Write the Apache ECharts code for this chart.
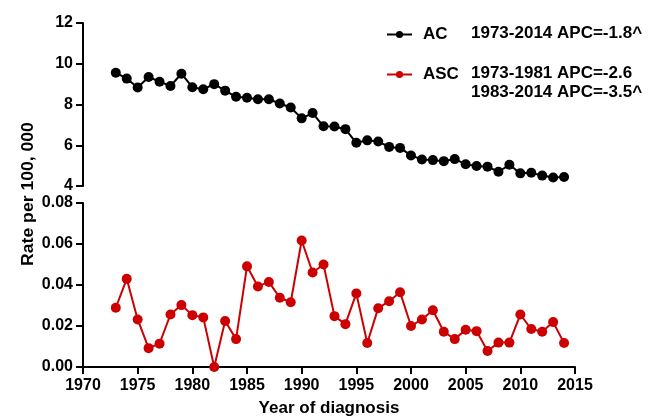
<!DOCTYPE html>
<html lang="en">
<head>
    <meta charset="UTF-8">
    <title>AC / ASC rates</title>
    <script src="https://cdn.jsdelivr.net/npm/echarts@6/dist/echarts.min.js"></script>
    <style>
        html, body { margin: 0; padding: 0; background: #fff; }
    </style>
</head>
<body>
    <div id="ec" style="width:661px;height:418px"></div>
</body>
<script>
    var years = []
    for (var y = 1973; y <= 2014; y++) years.push(y)

    var acRates = [9.56, 9.27, 8.83, 9.35, 9.12, 8.91, 9.51, 8.85, 8.75, 9.0,
        8.68, 8.38, 8.33, 8.26, 8.26, 8.05, 7.85, 7.32, 7.58, 6.93,
        6.92, 6.79, 6.12, 6.24, 6.18, 5.92, 5.87, 5.5, 5.3, 5.27,
        5.22, 5.32, 5.07, 4.98, 4.95, 4.7, 5.04, 4.62, 4.65, 4.51,
        4.42, 4.44]

    var ascRates = [0.0289, 0.043, 0.0232, 0.0092, 0.0114, 0.0256, 0.0302, 0.0253, 0.0242, 0.0,
        0.0224, 0.0136, 0.0491, 0.0393, 0.0415, 0.0338, 0.0316, 0.0617, 0.0461, 0.05,
        0.0248, 0.0209, 0.0359, 0.0117, 0.0287, 0.0321, 0.0365, 0.02, 0.0232, 0.0277,
        0.0172, 0.0136, 0.0182, 0.0175, 0.0078, 0.0119, 0.0119, 0.0256, 0.0185, 0.0172,
        0.0219, 0.0117]

    var seriesNames = ['AC', 'ASC']
    var apcLines = ['1973-2014 APC=-1.8^', '1973-1981 APC=-2.6', '1983-2014 APC=-3.5^']

    var font = 'Liberation Sans, Arial, sans-serif'

    // fresh style objects per axis
    function axisLine() { return { show: true, onZero: false, lineStyle: { color: '#000', width: 2 } } }
    function axisTick() { return { show: true, length: 7, lineStyle: { color: '#000', width: 2, opacity: 1 } } }
    function axisLabel(extra) {
        var o = { show: true, color: '#000', fontWeight: 'bold', fontSize: 16, fontFamily: font }
        return Object.assign(o, extra)
    }

    function pairs(vals) {
        return years.map(function (yr, i) { return [yr, vals[i]] })
    }

    var mychart = echarts.init(document.getElementById('ec'))

    var options = {
        backgroundColor: '#fff',
        animation: false,
        grid: [
            { left: 83, right: 86, top: 23, bottom: 232 },
            { left: 83, right: 86, top: 203, bottom: 50 }
        ],
        xAxis: [
            { gridIndex: 0, type: 'value', min: 1970, max: 2015, interval: 5, show: false },
            {
                gridIndex: 1, type: 'value', position: 'bottom', min: 1970, max: 2015, interval: 5,
                axisLine: axisLine(), axisTick: axisTick(),
                axisLabel: axisLabel({ margin: 11, formatter: function (v) { return String(v) } }),
                splitLine: { show: false },
                name: 'Year of diagnosis', nameLocation: 'middle', nameGap: 33,
                nameTextStyle: { color: '#000', fontWeight: 'bold', fontSize: 17, fontFamily: font }
            }
        ],
        yAxis: [
            {
                gridIndex: 0, type: 'value', position: 'left', min: 4, max: 12, interval: 2,
                axisLine: axisLine(), axisTick: axisTick(),
                axisLabel: axisLabel({ margin: 10 }),
                splitLine: { show: false }
            },
            {
                gridIndex: 1, type: 'value', position: 'left', min: 0, max: 0.08, interval: 0.02,
                axisLine: axisLine(), axisTick: axisTick(),
                axisLabel: axisLabel({ margin: 10, formatter: function (v) { return v.toFixed(2) } }),
                splitLine: { show: false }
            }
        ],
        legend: {
            orient: 'vertical',
            left: 381, top: 21,
            itemWidth: 25, itemHeight: 9, itemGap: 23,
            data: seriesNames,
            textStyle: { color: '#000', fontWeight: 'bold', fontSize: 17, fontFamily: font, padding: [0, 0, 0, 6] }
        },
        graphic: [
            {
                type: 'text', x: 29, y: 194, rotation: Math.PI / 2, scaleX: 1.1,
                style: { text: 'Rate per 100, 000', fill: '#000', font: 'bold 16px ' + font, align: 'center', verticalAlign: 'middle' }
            },
            { type: 'text', x: 471, y: 33, style: { text: apcLines[0], fill: '#000', font: 'bold 17px ' + font, verticalAlign: 'middle' } },
            { type: 'text', x: 471, y: 73, style: { text: apcLines[1], fill: '#000', font: 'bold 17px ' + font, verticalAlign: 'middle' } },
            { type: 'text', x: 471, y: 92, style: { text: apcLines[2], fill: '#000', font: 'bold 17px ' + font, verticalAlign: 'middle' } }
        ],
        series: [
            {
                name: seriesNames[0], type: 'line', xAxisIndex: 0, yAxisIndex: 0,
                data: pairs(acRates), symbol: 'circle', symbolSize: 10,
                itemStyle: { color: '#000' }, lineStyle: { color: '#000', width: 2 }
            },
            {
                name: seriesNames[1], type: 'line', xAxisIndex: 1, yAxisIndex: 1,
                data: pairs(ascRates), symbol: 'circle', symbolSize: 10,
                itemStyle: { color: '#cc0000' }, lineStyle: { color: '#cc0000', width: 2 }
            }
        ]
    }
    mychart.setOption(options)
</script>
</html>
